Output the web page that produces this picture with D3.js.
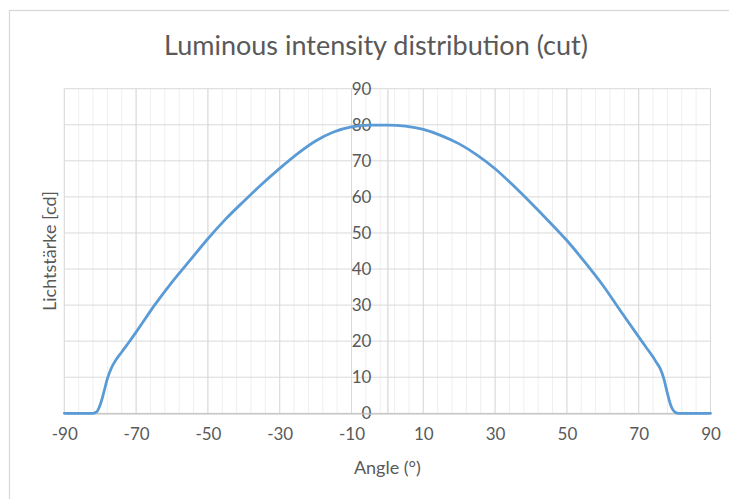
<!DOCTYPE html>
<html>
<head>
<meta charset="utf-8">
<script src="https://cdn.jsdelivr.net/npm/d3@7"></script>
<style>
    body { margin: 0; background: #fff; }
    svg text { font-family: Lato, "Open Sans", sans-serif; fill: #595959; }
</style>
</head>
<body>
<div id="chart"></div>
<script>
// Angles (°) and luminous intensity (cd)
const angles = [-90, -86, -82, -81, -80, -79, -78, -77, -76, -74, -72, -70, -65, -60, -55, -50, -45, -40, -35, -30, -25, -20, -15, -10, -5, 0,
    5, 10, 15, 20, 25, 30, 35, 40, 45, 50, 55, 60, 65, 70, 72, 74, 75, 76, 77, 78, 79, 80, 81, 86, 90];
const intensity = [0, 0, 0, 0.4, 2.4, 5.8, 9.6, 12.3, 14.2, 17.0, 19.7, 22.5, 29.8, 36.4, 42.4, 48.4, 53.9, 58.8, 63.5, 67.9, 72.0, 75.5, 78.0, 79.4, 79.9, 79.9,
    79.6, 78.7, 77.0, 74.7, 71.6, 67.8, 63.2, 58.3, 53.2, 47.9, 41.9, 35.5, 28.3, 21.2, 18.4, 15.6, 14.0, 12.4, 9.6, 5.5, 2.0, 0.4, 0, 0, 0];

const xTicks = [-90, -70, -50, -30, -10, 10, 30, 50, 70, 90];
const xMinorTicks = d3.range(-90, 91, 4);
const yTicks = [0, 10, 20, 30, 40, 50, 60, 70, 80, 90];

const title = "Luminous intensity distribution (cut)";
const xLabel = "Angle (°)";
const yLabel = "Lichtstärke [cd]";

const width = 729, height = 499;
const plot = {left: 64.3, right: 710.5, top: 88.7, bottom: 413.3};

const svg = d3.select("#chart")
    .append("svg")
    .attr("width", width)
    .attr("height", height);

// Chart frame (cropped at right and bottom)
svg.append("rect")
    .attr("x", 9.5)
    .attr("y", 10.5)
    .attr("width", width + 10)
    .attr("height", height + 10)
    .attr("fill", "#fff")
    .attr("stroke", "#d9d9d9")
    .attr("stroke-width", 1.3);

const x = d3.scaleLinear().domain([-90, 90]).range([plot.left, plot.right]);
const y = d3.scaleLinear().domain([0, 90]).range([plot.bottom, plot.top]);

// Minor vertical gridlines
svg.append("g")
    .selectAll("line")
    .data(xMinorTicks)
    .enter()
    .append("line")
    .attr("x1", d => x(d)).attr("x2", d => x(d))
    .attr("y1", plot.top).attr("y2", plot.bottom)
    .attr("stroke", "#efefef")
    .attr("stroke-width", 1);

// Major vertical gridlines
svg.append("g")
    .selectAll("line")
    .data(xTicks)
    .enter()
    .append("line")
    .attr("x1", d => x(d)).attr("x2", d => x(d))
    .attr("y1", plot.top).attr("y2", plot.bottom)
    .attr("stroke", "#d9d9d9")
    .attr("stroke-width", 1);

// Horizontal gridlines
svg.append("g")
    .selectAll("line")
    .data(yTicks)
    .enter()
    .append("line")
    .attr("x1", plot.left).attr("x2", plot.right)
    .attr("y1", d => y(d)).attr("y2", d => y(d))
    .attr("stroke", "#d9d9d9")
    .attr("stroke-width", 1);

// Y axis sits at angle 0
svg.append("g")
    .attr("transform", `translate(${x(0)},0)`)
    .call(d3.axisLeft(y).tickValues(yTicks).tickSize(0).tickPadding(16).tickFormat(d => String(d)))
    .call(g => g.select(".domain").attr("stroke", "#d9d9d9").attr("stroke-width", 1.3))
    .call(g => g.selectAll("text").style("font-size", "17px").attr("fill", "#595959"));

// X axis
svg.append("g")
    .attr("transform", `translate(0,${y(0)})`)
    .call(d3.axisBottom(x).tickValues(xTicks).tickSize(0).tickPadding(15).tickFormat(d => String(d)))
    .call(g => g.select(".domain").attr("stroke", "#bfbfbf").attr("stroke-width", 1.3))
    .call(g => g.selectAll("text").style("font-size", "17px").attr("fill", "#595959"));

// Curve
const line = d3.line()
    .x((d, i) => x(angles[i]))
    .y(d => y(d))
    .curve(d3.curveMonotoneX);

svg.append("path")
    .datum(intensity)
    .attr("d", line)
    .attr("fill", "none")
    .attr("stroke", "#5b9bd5")
    .attr("stroke-width", 2.8)
    .attr("stroke-linejoin", "round")
    .attr("stroke-linecap", "round");

// Title
svg.append("text")
    .attr("x", 376)
    .attr("y", 55)
    .attr("text-anchor", "middle")
    .style("font-size", "27px")
    .style("font-weight", "400")
    .text(title);

// Axis titles
svg.append("text")
    .attr("x", x(0))
    .attr("y", 474)
    .attr("text-anchor", "middle")
    .style("font-size", "18px")
    .text(xLabel);

svg.append("text")
    .attr("transform", `translate(56,${(plot.top + plot.bottom) / 2}) rotate(-90)`)
    .attr("text-anchor", "middle")
    .style("font-size", "18px")
    .text(yLabel);
</script>
</body>
</html>
